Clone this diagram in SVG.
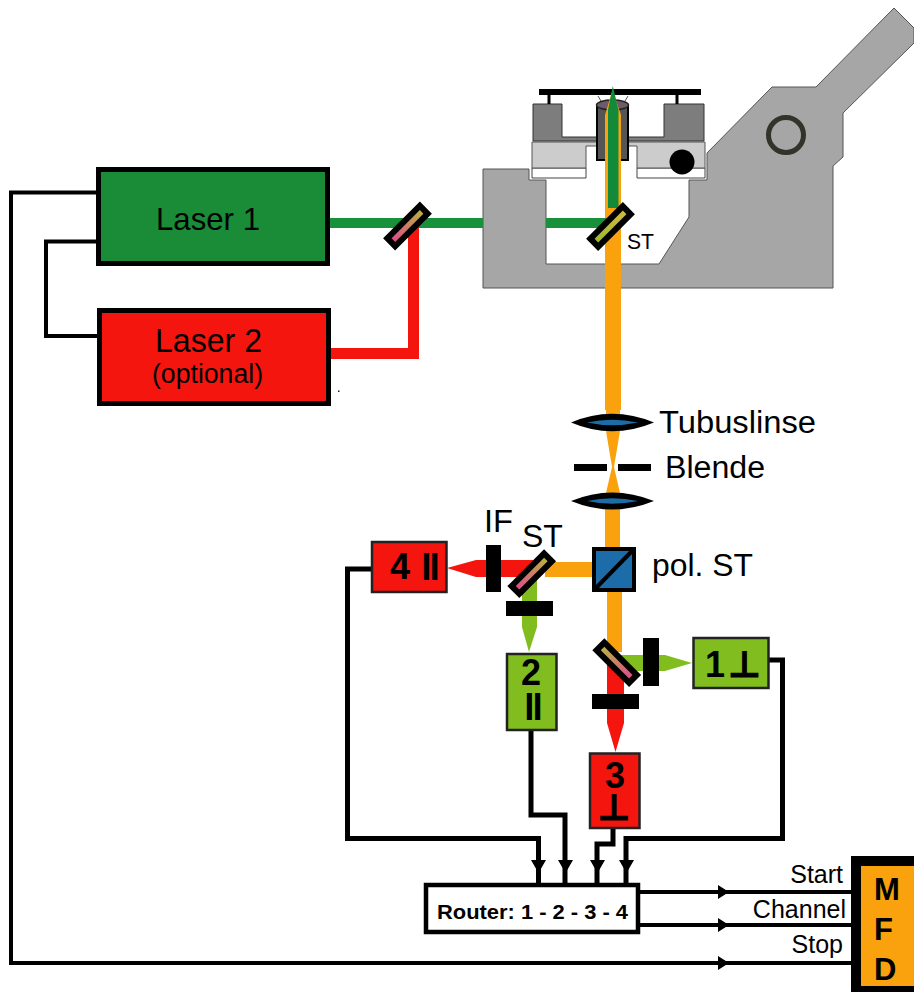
<svg xmlns="http://www.w3.org/2000/svg" width="914" height="992" viewBox="0 0 914 992">
<style>
text{font-family:"Liberation Sans",Arial,sans-serif;fill:#000}
.b{font-weight:bold}
.sym{font-family:"DejaVu Sans",sans-serif;font-weight:bold;stroke:#000;stroke-width:1}
.par{letter-spacing:-2px}
.wire{fill:none;stroke:#000;stroke-width:5}
.thin{fill:none;stroke:#000;stroke-width:4}
.blk{fill:#000}
.g{fill:#81bd1e;stroke:#222;stroke-width:2.5}
.r{fill:#f5150f;stroke:#222;stroke-width:2.5}
.mir{stroke:#000;stroke-width:6}
.body{stroke:#555;stroke-width:1}
</style>
<defs>
<linearGradient id="pk" x1="0" y1="0" x2="1" y2="0"><stop offset="0" stop-color="#e0458f"/><stop offset="1" stop-color="#b8b838"/></linearGradient>
<linearGradient id="yg" x1="0" y1="0" x2="1" y2="0"><stop offset="0" stop-color="#96bb30"/><stop offset="1" stop-color="#d8b838"/></linearGradient>
</defs>
<rect width="914" height="992" fill="#fff"/>

<g id="microscope">
<path class="body" fill="#a6a6a6" d="M483,169H529V180H546V264H659L689,217V180H707V153L772,87H816L894,8L914,28V43L843,113V157L833,166V288H483Z"/>
<circle cx="786" cy="135" r="17.5" fill="none" stroke="#33332a" stroke-width="5"/>
<path fill="#fff" stroke="#444" d="M532,168H586V178H532ZM637,168H705V178H637Z"/>
<path fill="#cccccc" stroke="#555" d="M532,142H705V168H637V146H586V168H532Z"/>
<circle cx="682" cy="162" r="12.5" fill="#000"/>
<path fill="#7d7d7d" stroke="#333" d="M533,104H562V137H664V104H704V141H533Z"/>
<rect class="blk" x="539" y="89" width="162" height="6"/>
<rect class="blk" x="547.500" y="95" width="3" height="9"/>
<rect class="blk" x="675.500" y="95" width="3" height="9"/>
<path stroke="#555" fill="none" d="M598,96L601,101M628,96L625,101"/>
<rect x="597" y="105" width="31" height="55" fill="#555" stroke="#000" stroke-width="2"/>
<ellipse cx="612.500" cy="105" rx="16" ry="5" fill="#6e5a68" stroke="#222" stroke-width="1.500"/>
</g>

<g id="beams">
<path fill="#f9a20d" d="M605,115L612.500,90L621,115V410H620V414H606V410H605Z"/>
<path fill="#f9a20d" d="M606,431H620L614,467L620,493H606L612,467Z"/>
<rect x="605" y="509" width="15" height="40" fill="#f9a20d"/>
<rect x="607" y="590" width="15" height="62" fill="#f9a20d"/>
<rect x="545" y="562" width="48" height="15" fill="#f9a20d"/>
<path fill="#13893a" d="M608,110L612.800,86L618.500,110V208H608Z"/>
<rect x="330" y="218" width="153" height="10" fill="#19903a"/>
<rect x="546" y="218" width="60" height="10" fill="#19903a"/>
<path fill="none" stroke="#f5150f" stroke-width="11" d="M331,353.500H413.500V226"/>
<path fill="#f5150f" d="M447,568L476,560H533V577H476Z"/>
<path fill="#81bd1e" d="M522,580H537V627L529,652L522,627Z"/>
<path fill="#81bd1e" d="M620,655H665L692,663L665,671H620Z"/>
<path fill="#f5150f" d="M607,660H624V723L615.500,752L607,723Z"/>
<rect x="338" y="390.500" width="1.500" height="1.500" fill="#222"/>
</g>

<g id="optics">
<g id="mirror-a"><rect class="mir" x="-23" y="-5.500" width="46" height="11" fill="url(#pk)" transform="translate(407.500,226) rotate(-45)"/></g>
<g id="mirror-st"><rect class="mir" x="-23" y="-5.500" width="46" height="11" fill="url(#yg)" transform="translate(610.500,226.500) rotate(-45)"/></g>
<g id="mirror-b"><rect class="mir" x="-23" y="-5.500" width="46" height="11" fill="url(#pk)" transform="translate(531.700,573.700) rotate(-45)"/></g>
<g id="mirror-c"><rect class="mir" x="-23" y="-5.500" width="46" height="11" fill="url(#pk)" transform="translate(616.700,662.700) rotate(-135)"/></g>
<g id="lens1"><path class="blk" d="M571,422.500Q612,405 654,422.500Q612,440 571,422.500Z"/><path fill="#1b6ca8" d="M587,422.500Q612,417 638,422.500Q612,428 587,422.500Z"/></g>
<g id="lens2"><path class="blk" d="M571,501Q612,484 654,501Q612,518 571,501Z"/><path fill="#1b6ca8" d="M587,501Q612,495.500 638,501Q612,506.500 587,501Z"/></g>
<g id="blende"><rect class="blk" x="574" y="464" width="33" height="7"/><rect class="blk" x="618" y="464" width="33" height="7"/></g>
<g id="pbs"><rect x="594" y="549" width="40" height="41" fill="#1b6ca8" stroke="#000" stroke-width="4"/><path d="M594,590L634,549" stroke="#000" stroke-width="4"/></g>
<rect class="blk" x="486" y="545" width="15" height="47"/>
<rect class="blk" x="506" y="601" width="47" height="15"/>
<rect class="blk" x="643" y="638" width="16" height="48"/>
<rect class="blk" x="592" y="694" width="47" height="15"/>
</g>

<g id="connectors">
<path class="thin" d="M97,192.500H11V963H852"/>
<path class="thin" d="M97,241.500H46V336H97"/>
<path class="wire" d="M371,569H347.500V838.500H538.500V884"/>
<path class="wire" d="M531,730V815H565V884"/>
<path class="wire" d="M613,828V844H597V884"/>
<path class="wire" d="M769,660H782.500V838.500H626V884"/>
<path class="blk" d="M531,860H546L538.500,873ZM558,860H573L565.500,873ZM590,860H605L597.500,873ZM619,860H634L626.500,873Z"/>
<path class="thin" d="M638,892H852M638,925H852"/>
<path class="blk" d="M718,885L729,892L718,899ZM718,918L729,925L718,932ZM718,956L729,963L718,970Z"/>
</g>

<g id="laser1"><rect x="98.500" y="169.500" width="229" height="94" fill="#1a8c38" stroke="#000" stroke-width="5"/><text x="156" y="230" font-size="32" textLength="104" lengthAdjust="spacingAndGlyphs">Laser 1</text></g>
<g id="laser2"><rect x="99.500" y="310.500" width="229" height="93" fill="#f5150f" stroke="#000" stroke-width="5"/><text x="155" y="352" font-size="33" textLength="107" lengthAdjust="spacingAndGlyphs">Laser 2</text><text x="152" y="383" font-size="27" textLength="111" lengthAdjust="spacingAndGlyphs">(optional)</text></g>
<g id="det4"><rect class="r" x="372" y="542" width="74.500" height="50"/><text class="b" x="400" y="579" font-size="36" text-anchor="middle">4</text><text class="b par" x="429.500" y="580" font-size="37" text-anchor="middle">ll</text></g>
<g id="det2"><rect class="g" x="507" y="654" width="49.500" height="76"/><text class="b" x="531" y="685" font-size="36" text-anchor="middle">2</text><text class="b par" x="532.500" y="720" font-size="37" text-anchor="middle">ll</text></g>
<g id="det1"><rect class="g" x="693.500" y="638" width="75" height="50"/><text class="b" x="715" y="677" font-size="36" text-anchor="middle">1</text><text class="sym" x="744.500" y="677" font-size="36" text-anchor="middle">⊥</text></g>
<g id="det3"><rect class="r" x="590" y="753.500" width="49.500" height="74.500"/><text class="b" x="615" y="788" font-size="36" text-anchor="middle">3</text><text class="sym" x="614" y="820" font-size="36" text-anchor="middle">⊥</text></g>
<g id="router"><rect x="426" y="885" width="212" height="47" fill="#fff" stroke="#000" stroke-width="4.500"/><text class="b" x="437" y="919" font-size="21" textLength="191" lengthAdjust="spacingAndGlyphs">Router: 1 - 2 - 3 - 4</text></g>
<g id="mfd"><path class="blk" d="M851,856H914V992H851Z"/><rect x="861" y="866" width="53" height="120" fill="#f9a20d"/><text class="b" x="874" y="900" font-size="31">M</text><text class="b" x="874" y="940" font-size="31">F</text><text class="b" x="874" y="980" font-size="31">D</text></g>

<g id="labels">
<text x="659" y="433" font-size="31" textLength="157" lengthAdjust="spacingAndGlyphs">Tubuslinse</text>
<text x="665" y="478" font-size="31" textLength="100" lengthAdjust="spacingAndGlyphs">Blende</text>
<text x="652" y="576" font-size="31" textLength="101" lengthAdjust="spacingAndGlyphs">pol. ST</text>
<text x="484" y="532" font-size="31" textLength="29" lengthAdjust="spacingAndGlyphs">IF</text>
<text x="522" y="547" font-size="32">ST</text>
<text x="627" y="249" font-size="22" textLength="27" lengthAdjust="spacingAndGlyphs">ST</text>
<text x="843" y="883" font-size="25" text-anchor="end">Start</text>
<text x="846" y="918" font-size="25" text-anchor="end">Channel</text>
<text x="843" y="953" font-size="25" text-anchor="end">Stop</text>
</g>
</svg>
